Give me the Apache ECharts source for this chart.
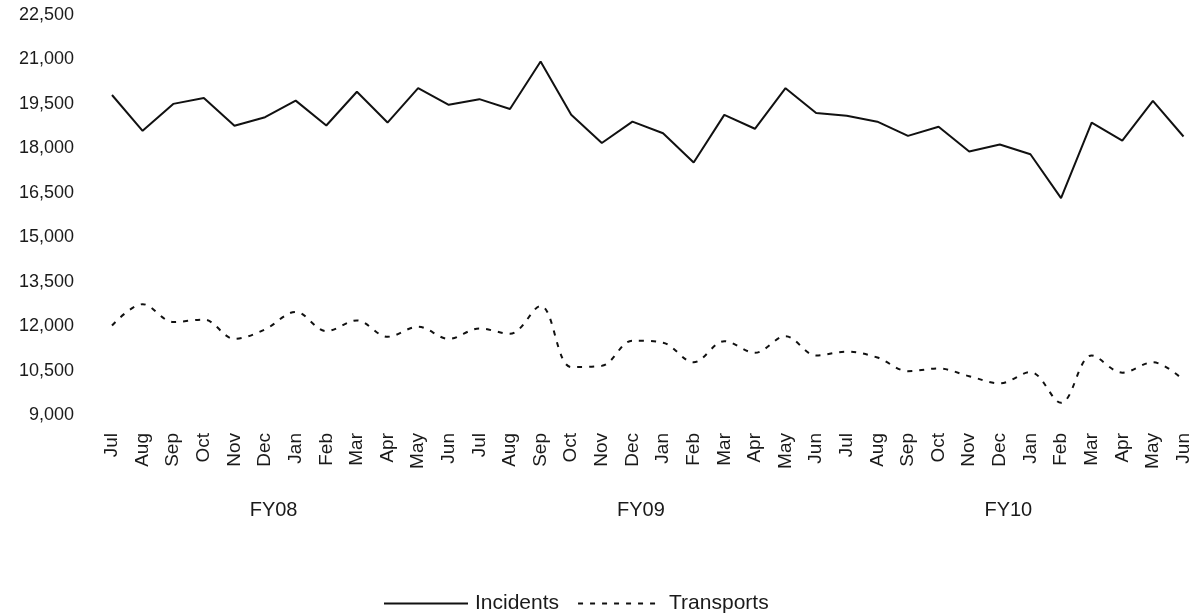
<!DOCTYPE html>
<html>
<head>
<meta charset="utf-8">
<script src="https://cdn.jsdelivr.net/npm/echarts@6/dist/echarts.min.js"></script>
<style>html,body{margin:0;padding:0;background:#fff}#c{width:1193px;height:614px}</style>
</head>
<body>
<div id="c"></div>
<script>
const months = ['Jul','Aug','Sep','Oct','Nov','Dec','Jan','Feb','Mar','Apr','May','Jun',
                'Jul','Aug','Sep','Oct','Nov','Dec','Jan','Feb','Mar','Apr','May','Jun',
                'Jul','Aug','Sep','Oct','Nov','Dec','Jan','Feb','Mar','Apr','May','Jun'];
const fiscalYears = ['FY08','FY09','FY10'];
const incidents = [19800,18590,19500,19700,18760,19050,19610,18770,19910,18870,20030,19470,
                   19660,19330,20930,19130,18180,18900,18510,17520,19130,18660,20030,19190,
                   19100,18900,18420,18730,17890,18130,17800,16320,18870,18260,19600,18400];
const transports = [12020,12740,12140,12220,11570,11890,12480,11830,12190,11640,11980,11570,
                    11920,11740,12680,10620,10660,11510,11440,10780,11490,11100,11660,11010,
                    11140,10940,10480,10570,10310,10070,10450,9410,11010,10430,10780,10180];
const yTicksMin = 9000, yTicksMax = 22500, yStep = 1500;

const fyRow = months.map((m, i) => (i % 12 === 5 ? fiscalYears[Math.floor(i / 12)] : ''));

const chart = echarts.init(document.getElementById('c'));
const txt = '#1a1a1a';
const ff = 'Liberation Sans, Arial, sans-serif';
chart.setOption({
  animation: false,
  backgroundColor: '#fff',
  grid: { left: 112, right: 8, top: 15, bottom: 199, containLabel: false },
  legend: {
    bottom: -5, left: 378,
    itemWidth: 84, itemHeight: 14, itemGap: 18,
    itemStyle: { opacity: 0 },
    textStyle: { fontFamily: ff, fontSize: 21, color: txt, padding: [0,0,0,2] },
    data: ['Incidents','Transports']
  },
  xAxis: [{
    type: 'category', data: months, boundaryGap: false,
    axisLine: { show: false }, axisTick: { show: false },
    axisLabel: { rotate: 90, margin: 18, interval: 0, fontFamily: ff, fontSize: 19, color: txt }
  }, {
    type: 'category', data: fyRow, position: 'bottom', offset: 85, boundaryGap: false,
    axisLine: { show: false }, axisTick: { show: false },
    axisLabel: { interval: 0, fontFamily: ff, fontSize: 20, color: txt, margin: 0, padding: [0,0,0,17] }
  }],
  yAxis: {
    type: 'value', min: yTicksMin, max: yTicksMax, interval: yStep,
    axisLine: { show: false }, axisTick: { show: false }, splitLine: { show: false },
    axisLabel: { margin: 38, fontFamily: ff, fontSize: 18, color: txt,
      formatter: v => v.toLocaleString('en-US') }
  },
  series: [{
    name: 'Incidents', type: 'line', data: incidents, symbol: 'none',
    lineStyle: { color: '#111', width: 2 }, itemStyle: { color: '#111' }
  }, {
    name: 'Transports', type: 'line', data: transports, symbol: 'none', smooth: 0.35,
    lineStyle: { color: '#111', width: 2, type: [5, 7] }, itemStyle: { color: '#111' }
  }]
});
</script>
</body>
</html>
